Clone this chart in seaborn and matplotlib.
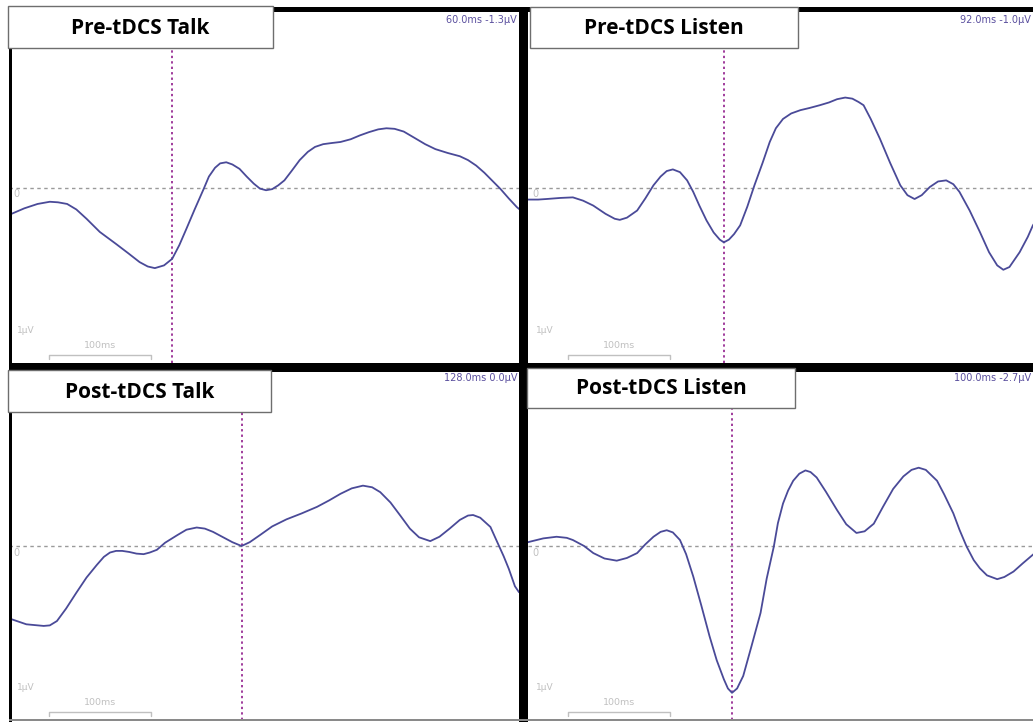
import matplotlib
matplotlib.use("Agg")
import matplotlib.pyplot as plt
from matplotlib.patches import Rectangle
import seaborn as sns

# ---- ERP waveforms (time in ms, amplitude in µV) ----
pre_talk_ms = [-100, -85, -72, -60, -52, -43, -34, -24, -11, 5, 17, 28, 36, 43, 52, 60, 67, 74,
               82, 91, 96, 102, 107, 113, 119, 126, 133, 140, 146, 152, 158, 164, 170, 177,
               185, 193, 200, 208, 216, 225, 235, 244, 253, 262, 270, 278, 287, 298, 308,
               318, 330, 342, 350, 358, 366, 374, 382, 390, 398, 402]
pre_talk_uv = [-0.50, -0.38, -0.30, -0.26, -0.27, -0.30, -0.40, -0.57, -0.81, -1.03, -1.20,
               -1.36, -1.44, -1.47, -1.42, -1.30, -1.05, -0.75, -0.40, -0.02, 0.20, 0.36,
               0.44, 0.46, 0.42, 0.34, 0.20, 0.07, -0.02, -0.05, -0.03, 0.04, 0.13, 0.30,
               0.50, 0.65, 0.74, 0.79, 0.81, 0.83, 0.88, 0.95, 1.01, 1.06, 1.08, 1.07, 1.02,
               0.90, 0.79, 0.70, 0.63, 0.57, 0.50, 0.40, 0.27, 0.12, -0.03, -0.20, -0.36,
               -0.42]

pre_listen_ms = [-100, -90, -82, -68, -56, -46, -36, -24, -15, -10, -3, 7, 15, 23, 30, 36, 42,
                 49, 56, 62, 68, 75, 82, 88, 92, 97, 102, 108, 115, 122, 130, 137, 143, 150,
                 158, 167, 176, 186, 195, 203, 211, 218, 224, 229, 236, 245, 255, 265, 272,
                 279, 286, 294, 302, 310, 317, 323, 333, 343, 352, 360, 366, 372, 382, 390,
                 395, 400]
pre_listen_uv = [-0.22, -0.22, -0.21, -0.19, -0.18, -0.24, -0.33, -0.48, -0.57, -0.59, -0.55,
                 -0.42, -0.20, 0.04, 0.20, 0.30, 0.33, 0.28, 0.13, -0.08, -0.33, -0.60, -0.82,
                 -0.95, -1.00, -0.95, -0.85, -0.69, -0.35, 0.04, 0.45, 0.83, 1.08, 1.25, 1.35,
                 1.41, 1.45, 1.50, 1.55, 1.61, 1.64, 1.62, 1.56, 1.50, 1.25, 0.89, 0.45, 0.04,
                 -0.14, -0.21, -0.14, 0.01, 0.11, 0.13, 0.06, -0.08, -0.42, -0.81, -1.18,
                 -1.42, -1.50, -1.45, -1.18, -0.90, -0.69, -0.55]

post_talk_ms = [-100, -97, -83, -66, -60, -53, -44, -34, -24, -14, -7, -1, 5, 11, 18, 25, 32,
                38, 45, 53, 65, 74, 84, 92, 100, 110, 119, 128, 136, 146, 158, 172, 187, 202,
                214, 225, 236, 247, 256, 264, 274, 284, 293, 302, 313, 322, 332, 342, 350,
                355, 362, 372, 378, 385, 390, 396, 400]
post_talk_uv = [-1.33, -1.35, -1.44, -1.47, -1.46, -1.38, -1.15, -0.86, -0.58, -0.35, -0.20,
                -0.12, -0.09, -0.09, -0.11, -0.14, -0.15, -0.12, -0.07, 0.06, 0.20, 0.30,
                0.34, 0.32, 0.26, 0.16, 0.07, 0.00, 0.07, 0.20, 0.36, 0.49, 0.60, 0.72, 0.84,
                0.96, 1.06, 1.11, 1.08, 0.99, 0.80, 0.55, 0.32, 0.16, 0.09, 0.17, 0.32, 0.48,
                0.56, 0.57, 0.52, 0.35, 0.10, -0.19, -0.42, -0.74, -0.85]

post_listen_ms = [-100, -98, -85, -72, -62, -56, -45, -36, -25, -13, -3, 7, 15, 23, 30, 36,
                  42, 49, 55, 62, 70, 78, 85, 92, 96, 100, 105, 111, 119, 128, 134, 141, 145,
                  150, 155, 160, 166, 172, 177, 183, 192, 203, 212, 222, 230, 239, 248, 258,
                  268, 276, 283, 290, 301, 308, 317, 323, 330, 337, 343, 350, 360, 367, 376,
                  385, 395, 400]
post_listen_uv = [0.07, 0.08, 0.14, 0.17, 0.15, 0.11, 0.00, -0.13, -0.23, -0.27, -0.22, -0.13,
                  0.03, 0.17, 0.26, 0.29, 0.25, 0.11, -0.15, -0.56, -1.10, -1.66, -2.10,
                  -2.45, -2.62, -2.70, -2.62, -2.39, -1.85, -1.23, -0.60, -0.01, 0.42, 0.78,
                  1.02, 1.20, 1.33, 1.39, 1.36, 1.26, 1.00, 0.66, 0.40, 0.24, 0.27, 0.41, 0.72,
                  1.05, 1.28, 1.40, 1.44, 1.40, 1.20, 0.95, 0.60, 0.30, -0.01, -0.26, -0.41,
                  -0.54, -0.61, -0.57, -0.47, -0.32, -0.16, -0.08]

# ---- panel titles and cursor readouts ----
titles = ["Pre-tDCS Talk", "Pre-tDCS Listen", "Post-tDCS Talk", "Post-tDCS Listen"]
cursor_ms = [60.0, 92.0, 128.0, 100.0]
cursor_uv = [-1.3, -1.0, 0.0, -2.7]

series = [(pre_talk_ms, pre_talk_uv), (pre_listen_ms, pre_listen_uv),
          (post_talk_ms, post_talk_uv), (post_listen_ms, post_listen_uv)]

W, H = 1033, 722
sns.set_style("white")
plt.rcParams["font.family"] = ["DejaVu Sans"]

fig = plt.figure(figsize=(W / 100, H / 100), dpi=100, facecolor="white")


def px_axes(x0, y0, x1, y1):
    return fig.add_axes([x0 / W, 1 - y1 / H, (x1 - x0) / W, (y1 - y0) / H])


def px_rect(x0, y0, x1, y1, **kw):
    fig.add_artist(Rectangle((x0 / W, 1 - y1 / H), (x1 - x0) / W, (y1 - y0) / H,
                             transform=fig.transFigure, **kw))


def px_text(x, y, s, **kw):
    fig.text(x / W, 1 - y / H, s, **kw)


WAVE = "#4a4a98"
CURSOR = "#a03c9c"
GRID = "#9a9a9a"
FAINT = "#c0c0c0"
READOUT = "#5a4f9e"

# axes boxes in pixels: (left, top, right, bottom)
boxes = [(9, 12, 519, 363), (528, 12, 1038, 363), (9, 372, 519, 720), (528, 372, 1038, 720)]
title_boxes = [(8, 6, 273, 48), (530, 7, 798, 48), (8, 370, 271, 412), (527, 368, 795, 408)]
readout_pos = [(517, 20), (1031, 20), (517, 378), (1031, 378)]

for i, (box, (t, v)) in enumerate(zip(boxes, series)):
    ax = px_axes(*box)
    ax.set_xlim(-100, 400)
    ax.set_ylim(-3.2, 3.2)
    ax.axis("off")
    ax.axhline(0, color=GRID, lw=1.0, ls=(0, (2.5, 2.5)), zorder=1)
    ax.axvline(cursor_ms[i], color=CURSOR, lw=1.4, ls=(0, (1.2, 1.6)), zorder=2)
    sns.lineplot(x=t, y=v, ax=ax, color=WAVE, linewidth=1.3, zorder=3,
                 solid_joinstyle="round", solid_capstyle="round")
    ax.text(-96, -0.12, "0", color=FAINT, fontsize=7, ha="left", va="center")
    ax.text(-92, -2.6, "1µV", color=FAINT, fontsize=6.5, ha="left", va="center")
    # 100 ms scale bar
    ax.plot([-61, -61, 39, 39], [-3.12, -3.05, -3.05, -3.12], color=FAINT, lw=1.0)
    ax.text(-11, -2.88, "100ms", color=FAINT, fontsize=6.8, ha="center", va="center")

    rx, ry = readout_pos[i]
    px_text(rx, ry, f"{cursor_ms[i]:.1f}ms {cursor_uv[i]:.1f}µV", color=READOUT,
            fontsize=7, ha="right", va="center")

# dark frame lines between the panels
px_rect(8, 7, 1033, 12, facecolor="black", edgecolor="none", zorder=8)
px_rect(519, 7, 528, 722, facecolor="black", edgecolor="none", zorder=8)
px_rect(9, 363, 1033, 372, facecolor="black", edgecolor="none", zorder=8)
px_rect(9, 40, 12, 722, facecolor="black", edgecolor="none", zorder=8)
px_rect(9, 719, 1033, 721, facecolor="#8a8a8a", edgecolor="none", zorder=8)

# title labels
for (x0, y0, x1, y1), title in zip(title_boxes, titles):
    px_rect(x0, y0, x1, y1, facecolor="white", edgecolor="#6e6e6e", lw=1.0, zorder=10)
    px_text((x0 + x1) / 2, (y0 + y1) / 2 + 1, title, fontsize=15, fontweight="bold",
            family=["Open Sans", "DejaVu Sans"], color="black", ha="center", va="center",
            zorder=11)

fig.savefig("out.png", dpi=100, facecolor="white")
